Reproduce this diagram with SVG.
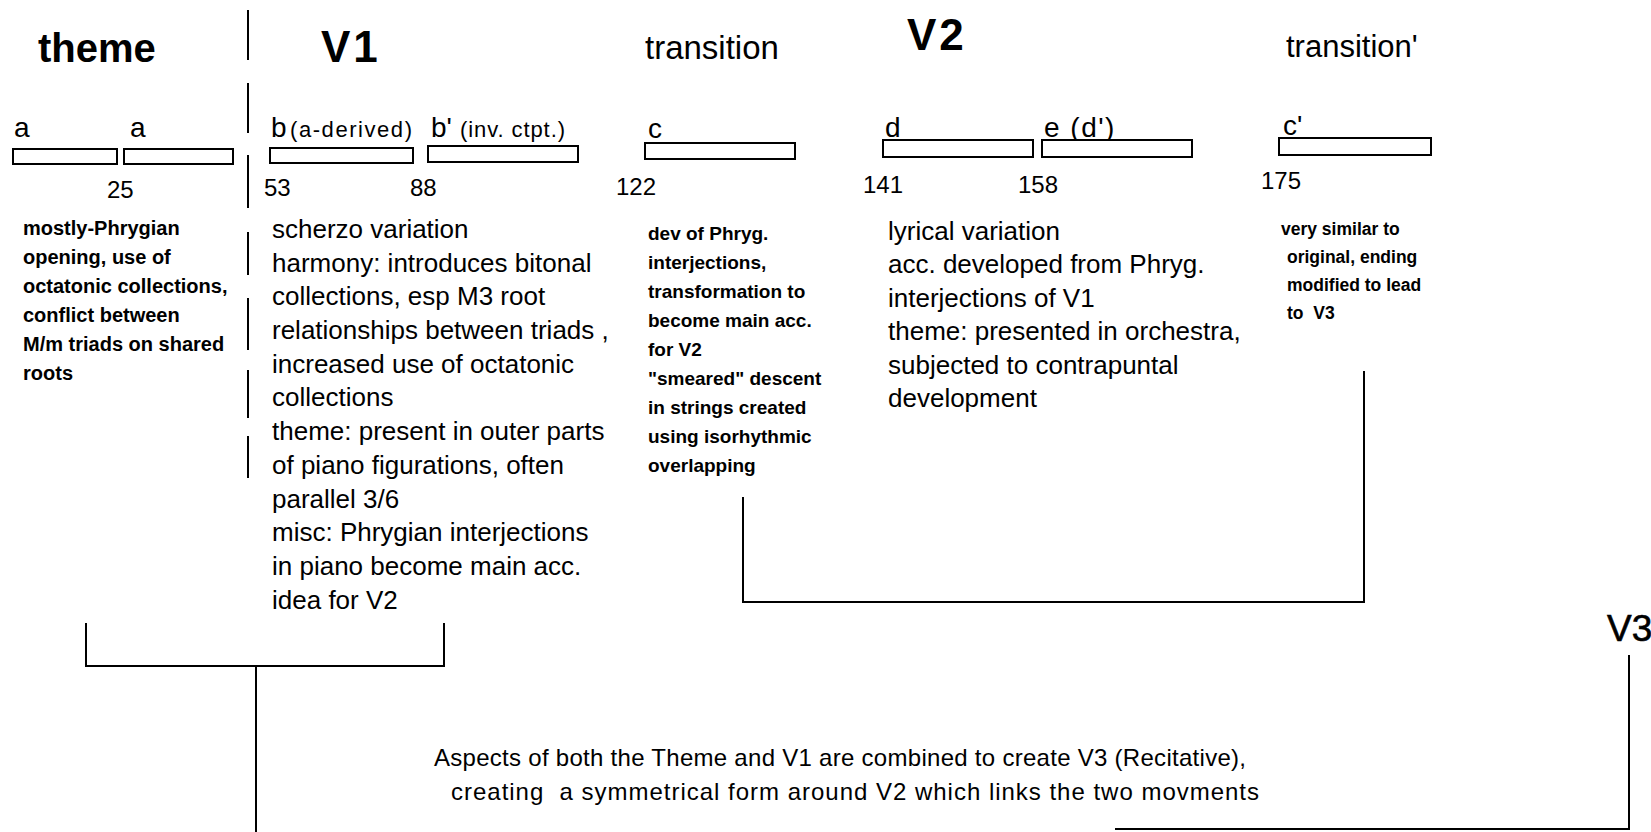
<svg xmlns="http://www.w3.org/2000/svg" width="1651" height="832" viewBox="0 0 1651 832">
<style>
text { font-family: "Liberation Sans", Arial, sans-serif; fill: #000; }
.hb { font-weight: bold; font-size: 40px; }
.hv { font-weight: bold; font-size: 44px; letter-spacing: 3px; }
.h { font-size: 33px; }
.lab { font-size: 28px; }
.sub { font-size: 22px; }
.num { font-size: 24px; }
.sm { font-size: 20px; font-weight: bold; }
.sm2 { font-size: 19px; font-weight: bold; }
.sm3 { font-size: 17.5px; font-weight: bold; }
.md { font-size: 26px; }
.ft { font-size: 24px; }
.box { fill: #fff; stroke: #000; stroke-width: 2; }
.ln { fill: none; stroke: #000; stroke-width: 2; }
</style>
<rect width="1651" height="832" fill="#fff"/>

<g id="divider">
<path class="ln" d="M248,10V60M248,83V133M248,155V208M248,232V275M248,298V350M248,370V418M248,436V478"/>
</g>

<g id="theme">
<text class="hb" x="38" y="62">theme</text>
<text class="lab" x="14" y="137">a</text>
<text class="lab" x="130" y="137">a</text>
<rect class="box" x="13" y="149" width="104" height="15"/>
<rect class="box" x="124" y="149" width="109" height="15"/>
<text class="num" x="107" y="198">25</text>
<text class="sm" x="23" y="235">mostly-Phrygian</text>
<text class="sm" x="23" y="264">opening, use of</text>
<text class="sm" x="23" y="293">octatonic collections,</text>
<text class="sm" x="23" y="322">conflict between</text>
<text class="sm" x="23" y="351">M/m triads on shared</text>
<text class="sm" x="23" y="380">roots</text>
</g>

<g id="v1">
<text class="hv" x="321" y="62">V1</text>
<text class="lab" x="271" y="137">b</text>
<text class="sub" x="290" y="137" textLength="122">(a-derived)</text>
<text class="lab" x="431" y="137">b'</text>
<text class="sub" x="460" y="137" textLength="105">(inv. ctpt.)</text>
<rect class="box" x="270" y="148" width="143" height="15"/>
<rect class="box" x="428" y="146" width="150" height="16"/>
<text class="num" x="264" y="196">53</text>
<text class="num" x="410" y="196">88</text>
<text class="md" x="272" y="238">scherzo variation</text>
<text class="md" x="272" y="272">harmony: introduces bitonal</text>
<text class="md" x="272" y="305">collections, esp M3 root</text>
<text class="md" x="272" y="339">relationships between triads ,</text>
<text class="md" x="272" y="373">increased use of octatonic</text>
<text class="md" x="272" y="406">collections</text>
<text class="md" x="272" y="440">theme: present in outer parts</text>
<text class="md" x="272" y="474">of piano figurations, often</text>
<text class="md" x="272" y="508">parallel 3/6</text>
<text class="md" x="272" y="541">misc: Phrygian interjections</text>
<text class="md" x="272" y="575">in piano become main acc.</text>
<text class="md" x="272" y="609">idea for V2</text>
</g>

<g id="transition">
<text class="h" x="645" y="59">transition</text>
<text class="lab" x="648" y="138">c</text>
<rect class="box" x="645" y="143" width="150" height="16"/>
<text class="num" x="616" y="195">122</text>
<text class="sm2" x="648" y="240">dev of Phryg.</text>
<text class="sm2" x="648" y="269">interjections,</text>
<text class="sm2" x="648" y="298">transformation to</text>
<text class="sm2" x="648" y="327">become main acc.</text>
<text class="sm2" x="648" y="356">for V2</text>
<text class="sm2" x="648" y="385">"smeared" descent</text>
<text class="sm2" x="648" y="414">in strings created</text>
<text class="sm2" x="648" y="443">using isorhythmic</text>
<text class="sm2" x="648" y="472">overlapping</text>
</g>

<g id="v2">
<text class="hv" x="907" y="50">V2</text>
<text class="lab" x="885" y="137">d</text>
<text class="lab" x="1044" y="137" style="letter-spacing:1.5px">e (d')</text>
<rect class="box" x="883" y="140" width="150" height="17"/>
<rect class="box" x="1042" y="140" width="150" height="17"/>
<text class="num" x="863" y="193">141</text>
<text class="num" x="1018" y="193">158</text>
<text class="md" x="888" y="240">lyrical variation</text>
<text class="md" x="888" y="273">acc. developed from Phryg.</text>
<text class="md" x="888" y="307">interjections of V1</text>
<text class="md" x="888" y="340">theme: presented in orchestra,</text>
<text class="md" x="888" y="374">subjected to contrapuntal</text>
<text class="md" x="888" y="407">development</text>
</g>

<g id="transition2">
<text class="h" x="1286" y="57" style="font-size:31px">transition'</text>
<text class="lab" x="1283" y="135">c'</text>
<rect class="box" x="1279" y="138" width="152" height="17"/>
<text class="num" x="1261" y="189">175</text>
<text class="sm3" x="1281" y="235">very similar to</text>
<text class="sm3" x="1287" y="263">original, ending</text>
<text class="sm3" x="1287" y="291">modified to lead</text>
<text class="sm3" x="1287" y="319" xml:space="preserve">to  V3</text>
</g>

<g id="v3">
<text class="h" x="1607" y="641" style="font-size:37px" stroke="#000" stroke-width="0.6">V3</text>
</g>

<g id="summary">
<text class="ft" x="434" y="766" textLength="812">Aspects of both the Theme and V1 are combined to create V3 (Recitative),</text>
<text class="ft" x="451" y="800" textLength="808" xml:space="preserve">creating  a symmetrical form around V2 which links the two movments</text>
</g>

<g id="connectors">
<path class="ln" d="M86,623V666H444V623"/>
<path class="ln" d="M256,666V832"/>
<path class="ln" d="M743,497V602H1364V371"/>
<path class="ln" d="M1629,655V829H1115"/>
</g>
</svg>
